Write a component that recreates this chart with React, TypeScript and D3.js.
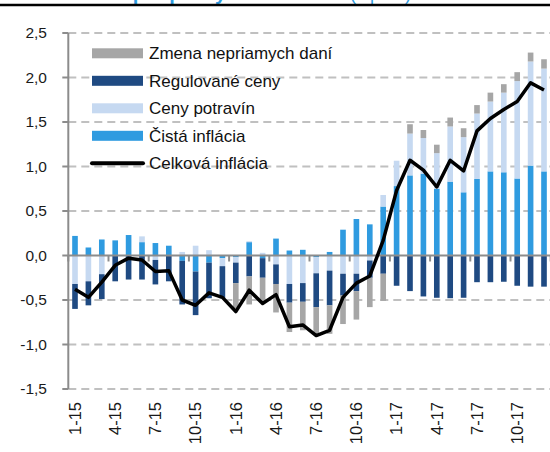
import React from "react";
import * as d3 from "d3";

const months = [
  "1-15","2-15","3-15","4-15","5-15","6-15","7-15","8-15","9-15","10-15","11-15","12-15",
  "1-16","2-16","3-16","4-16","5-16","6-16","7-16","8-16","9-16","10-16","11-16","12-16",
  "1-17","2-17","3-17","4-17","5-17","6-17","7-17","8-17","9-17","10-17","11-17","12-17",
];
const tickLabels = ["1-15","4-15","7-15","10-15","1-16","4-16","7-16","10-16","1-17","4-17","7-17","10-17"];
const yTicks = [2.5, 2.0, 1.5, 1.0, 0.5, 0.0, -0.5, -1.0, -1.5];

// Čistá inflácia
const cistaInflacia = [0.22,0.09,0.18,0.17,0.23,0.15,0.14,0.11,-0.06,-0.18,-0.08,-0.03,-0.02,0.15,-0.03,0.19,0.056,0.064,-0.02,0.04,0.29,0.41,0.35,0.55,0.78,0.90,0.92,0.75,0.83,0.71,0.86,0.945,0.935,0.865,1.01,0.945];
// Ceny potravín
const cenyPotravin = [-0.32,-0.29,-0.21,0,0,0.065,-0.05,0,0.04,0.11,0.06,-0.09,-0.06,0.01,0.03,-0.10,-0.32,-0.31,-0.18,-0.17,-0.205,-0.205,-0.056,0.13,0.285,0.47,0.40,0.40,0.62,0.62,0.735,0.785,0.895,1.095,1.17,1.155];
// Regulované ceny
const regulovaneCeny = [-0.28,-0.27,-0.28,-0.29,-0.27,-0.27,-0.275,-0.29,-0.49,-0.49,-0.40,-0.36,-0.23,-0.235,-0.22,-0.22,-0.21,-0.21,-0.38,-0.39,-0.245,-0.195,-0.194,-0.205,-0.34,-0.40,-0.46,-0.475,-0.48,-0.475,-0.30,-0.30,-0.295,-0.34,-0.35,-0.35];
// Zmena nepriamych daní
const zmenaDani = [0,0,0,0,0,0,0,0,0,0,0,0,-0.28,-0.315,-0.28,-0.32,-0.33,-0.32,-0.30,-0.32,-0.32,-0.32,-0.33,-0.305,0,0.105,0.09,0.095,0.10,0.10,0.095,0.10,0.095,0.10,0.10,0.105];
// Celková inflácia
const celkovaInflacia = [-0.38,-0.47,-0.30,-0.11,-0.03,-0.05,-0.18,-0.17,-0.50,-0.56,-0.42,-0.47,-0.63,-0.39,-0.54,-0.44,-0.80,-0.78,-0.90,-0.84,-0.47,-0.31,-0.23,0.17,0.73,1.07,0.96,0.77,1.07,0.95,1.40,1.54,1.64,1.73,1.94,1.86];

const seriesKeys = ["cista", "potraviny", "regulovane", "dane"];
const seriesColors: Record<string, string> = {
  cista: "#2f9be0",
  potraviny: "#c6d9f1",
  regulovane: "#1f4a82",
  dane: "#a6a6a6",
};
const legendItems = [
  { label: "Zmena nepriamych daní", key: "dane", type: "rect" },
  { label: "Regulované ceny", key: "regulovane", type: "rect" },
  { label: "Ceny potravín", key: "potraviny", type: "rect" },
  { label: "Čistá inflácia", key: "cista", type: "rect" },
  { label: "Celková inflácia", key: "line", type: "line" },
];

const FONT = "'Liberation Sans', Arial, sans-serif";

export default function App() {
  const width = 550;
  const height = 452;
  const x = d3.scaleBand<string>().domain(months).range([68.3, 550.7]).paddingInner(0.58).paddingOuter(0.29);
  const y = d3.scaleLinear().domain([-1.5, 2.5]).range([389, 33]);
  const xc = (m: string) => (x(m) as number) + x.bandwidth() / 2;
  const step = x.step();
  const x0 = 68.3;

  const table = months.map((m, i) => ({
    month: m,
    cista: cistaInflacia[i],
    potraviny: cenyPotravin[i],
    regulovane: regulovaneCeny[i],
    dane: zmenaDani[i],
  }));
  const stacked = d3.stack<any>().keys(seriesKeys).offset(d3.stackOffsetDiverging)(table);

  const line = d3
    .line<number>()
    .x((_, i) => xc(months[i]))
    .y((d) => y(d));

  const fmt = (v: number) => d3.format(".1f")(v).replace(".", ",").replace("−", "-");

  return (
    <svg width={width} height={height} style={{ position: "absolute", left: 0, top: 0, background: "#fff" }} fontFamily={FONT}>
      {/* clipped title */}
      <text x={63} y={-0.5} fontSize={20} fontWeight="bold" fill="#2e9be0">HICP – príspevky zložiek</text>
      <text x={350} y={-0.5} fontSize={18} fill="#2e9be0">(v p. b.)</text>
      <line x1={0} x2={550} y1={5} y2={5} stroke="#000" strokeWidth={2.5} />

      {/* grid */}
      {yTicks.filter((t) => t !== 0).map((t) => (
        <line key={t} x1={x0} x2={551} y1={y(t)} y2={y(t)} stroke="#c0c0c0" strokeWidth={2} strokeDasharray="8,5" />
      ))}

      {/* bars */}
      {stacked.map((s) => (
        <g key={s.key} fill={seriesColors[s.key]}>
          {s.map((d, i) => {
            const top = y(Math.max(d[0], d[1]));
            const bot = y(Math.min(d[0], d[1]));
            if (bot - top <= 0) return null;
            return <rect key={i} x={x(months[i])} y={top} width={x.bandwidth()} height={bot - top} />;
          })}
        </g>
      ))}

      {/* axes */}
      <line x1={x0} x2={551} y1={y(0)} y2={y(0)} stroke="#8c8c8c" strokeWidth={2} />
      {d3.range(0, 13).map((k) => (
        <line key={k} x1={x0 + k * 3 * step} x2={x0 + k * 3 * step} y1={y(0)} y2={y(0) + 6} stroke="#8c8c8c" strokeWidth={2} />
      ))}
      <line x1={x0} x2={x0} y1={y(2.5)} y2={y(-1.5)} stroke="#8c8c8c" strokeWidth={2} />
      {yTicks.map((t) => (
        <g key={t}>
          <line x1={x0 - 6} x2={x0} y1={y(t)} y2={y(t)} stroke="#8c8c8c" strokeWidth={2} />
          <text x={47} y={y(t)} dy="0.35em" textAnchor="end" fontSize={15.5} fill="#1a1a1a">{fmt(t)}</text>
        </g>
      ))}
      {tickLabels.map((m) => (
        <text key={m} x={xc(m)} y={402} dy="0.35em" textAnchor="end" fontSize={16.5} fill="#1a1a1a"
          transform={`rotate(-90, ${xc(m)}, 402)`}>{m}</text>
      ))}

      {/* line */}
      <path d={line(celkovaInflacia) || ""} fill="none" stroke="#000" strokeWidth={3.5} strokeLinejoin="round" />

      {/* legend */}
      {legendItems.map((it, i) => {
        const cy = 53.3 + i * 27.5;
        return (
          <g key={it.key}>
            {it.type === "rect" ? (
              <rect x={92} y={cy - 5} width={51} height={10} fill={seriesColors[it.key]} />
            ) : (
              <line x1={92} x2={143} y1={cy} y2={cy} stroke="#000" strokeWidth={4} strokeLinecap="round" />
            )}
            <text x={149} y={cy} dy="0.36em" fontSize={17} fill="#111">{it.label}</text>
          </g>
        );
      })}
    </svg>
  );
}
